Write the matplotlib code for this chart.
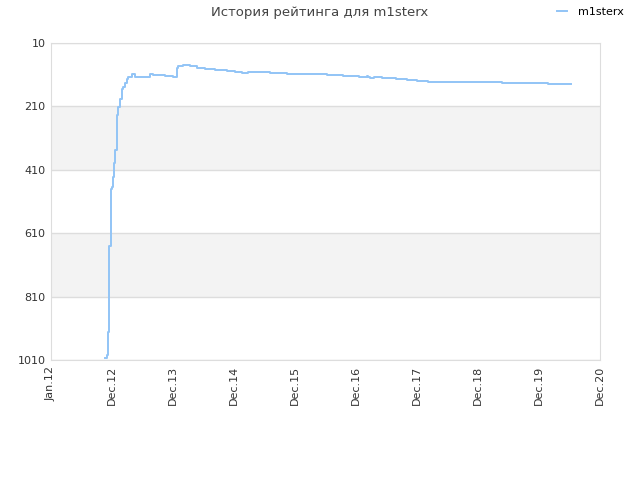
import matplotlib
matplotlib.use("Agg")
import matplotlib.pyplot as plt
import matplotlib.dates as mdates
import numpy as np
import pandas as pd

dates = ["2012-11-16", "2012-11-26", "2012-12-02", "2012-12-08", "2012-12-12",
         "2012-12-20", "2012-12-26", "2013-01-01", "2013-01-09", "2013-01-16",
         "2013-01-25", "2013-02-03", "2013-02-13", "2013-02-23", "2013-03-05",
         "2013-03-15", "2013-03-25", "2013-04-03", "2013-04-24", "2013-05-13",
         "2013-08-10", "2013-08-28", "2013-11-07", "2013-12-25", "2014-01-15",
         "2014-01-23", "2014-02-22", "2014-04-04", "2014-05-16", "2014-07-02",
         "2014-08-31", "2014-11-10", "2014-12-27", "2015-02-07", "2015-03-14",
         "2015-07-23", "2015-09-20", "2015-11-01", "2016-06-25", "2016-09-28",
         "2017-01-01", "2017-02-17", "2017-02-23", "2017-03-07", "2017-03-31",
         "2017-05-17", "2017-08-08", "2017-10-12", "2017-12-11", "2018-02-14",
         "2018-08-05", "2019-04-29", "2020-01-27", "2020-06-11"]
ratings = [1003, 995, 922, 890, 650,
           470, 465, 433, 390, 348,
           237, 212, 187, 155, 149,
           136, 124, 117, 109, 116,
           108, 110, 113, 116, 89,
           82, 79, 82, 88, 91,
           94, 97, 101, 105, 101,
           105, 104, 108, 111, 114,
           117, 113, 116, 120, 116,
           120, 123, 127, 130, 133,
           133, 136, 139, 139]

yticks = [10, 210, 410, 610, 810, 1010]
x_start, x_end = "2012-01-01", "2020-12-01"
xtick_labels = ["Jan.12", "Dec.12", "Dec.13", "Dec.14", "Dec.15",
                "Dec.16", "Dec.17", "Dec.18", "Dec.19", "Dec.20"]

fig = plt.figure(figsize=(6.4, 4.8), dpi=100)
ax = fig.add_axes([51/640, 120/480, 549/640, 317/480])

d = pd.to_datetime(dates)
x0 = mdates.date2num(pd.Timestamp(x_start))
x1 = mdates.date2num(pd.Timestamp(x_end))

for lo, hi in [(210, 410), (610, 810)]:
    ax.axhspan(lo, hi, color="#f3f3f3", zorder=0, lw=0)
for y in yticks:
    ax.axhline(y, color="#dddddd", lw=1, zorder=1)

ax.plot(d, ratings, drawstyle="steps-post", color="#92c4f6", lw=1.4,
        label="m1sterx", zorder=3)

ax.set_ylim(1010, 10)
ax.set_xlim(x0, x1)
ax.set_yticks(yticks)
ax.set_yticklabels([str(v) for v in yticks])
ax.set_xticks(np.linspace(x0, x1, len(xtick_labels)))
ax.set_xticklabels(xtick_labels, rotation=90)
ax.tick_params(axis="both", labelsize=8, colors="#333333", length=0, pad=4)
for s in ax.spines.values():
    s.set_color("#dddddd")

fig.text(0.5, 0.974, "История рейтинга для m1sterx", ha="center", va="center",
         fontsize=9.5, color="#444444")
leg = fig.legend(loc="center", bbox_to_anchor=(0.922, 0.975), frameon=False,
                 fontsize=8, handlelength=0.9, handletextpad=1.0)

fig.savefig("out.png", dpi=100)
